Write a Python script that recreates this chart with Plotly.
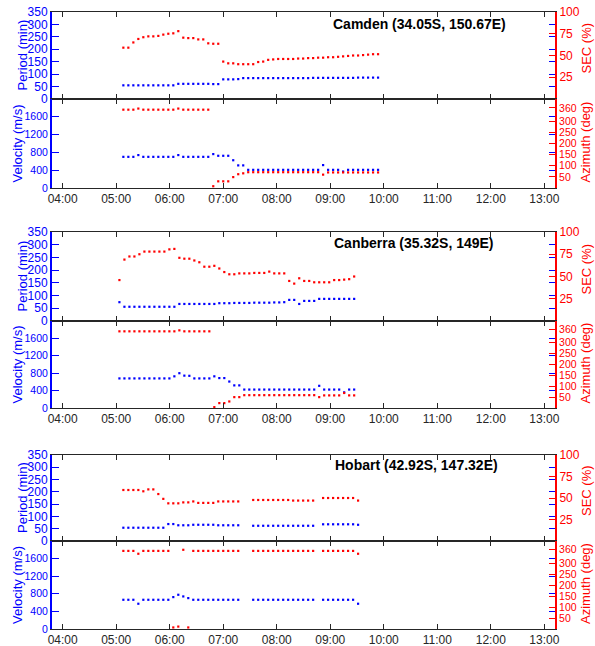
import plotly.graph_objects as go

# ---------------- data ----------------
hour_labels = ["04:00", "05:00", "06:00", "07:00", "08:00", "09:00", "10:00", "11:00", "12:00", "13:00"]
period_ticks = [0, 50, 100, 150, 200, 250, 300, 350]
sec_ticks = [25, 50, 75, 100]
velocity_ticks = [0, 400, 800, 1200, 1600]
azimuth_ticks = [50, 100, 150, 200, 250, 300, 360]

camden_time = [
    "05:08:00", "05:13:36", "05:19:12", "05:24:48", "05:30:24", "05:36:00", "05:41:36", "05:47:12", "05:52:48", "05:58:24",
    "06:04:00", "06:09:36", "06:15:12", "06:20:48", "06:26:24", "06:32:00", "06:37:36", "06:43:12", "06:48:48", "06:54:24",
    "07:00:00", "07:05:36", "07:11:12", "07:16:48", "07:22:24", "07:28:00", "07:33:36", "07:39:12", "07:44:48", "07:50:24",
    "07:56:00", "08:01:36", "08:07:12", "08:12:48", "08:18:24", "08:24:00", "08:29:36", "08:35:12", "08:40:48", "08:46:24",
    "08:52:00", "08:57:36", "09:03:12", "09:08:48", "09:14:24", "09:20:00", "09:25:36", "09:31:12", "09:36:48", "09:42:24",
    "09:48:00", "09:53:36"]
camden_period = [
    55, 55, 55, 55, 55, 55, 55, 55, 55, 55,
    55, 61, 61, 61, 61, 61, 61, 61, 60, 60,
    79, 79, 79, 80, 84, 84, 84, 84, 84, 84,
    84, 84, 84, 84, 84, 84, 84, 84, 85, 85,
    85, 85, 85, 85, 85, 85, 85, 86, 86, 86,
    86, 86]
camden_sec = [
    59, 59, 65, 69, 71, 72, 72, 72.5, 74, 75,
    75.5, 78, 70.5, 70, 70, 68.5, 68.5, 64, 63.5, 63.5,
    43, 41, 41, 40, 40, 40, 40, 42.5, 43, 45,
    45.5, 46, 46, 46, 46, 46.5, 46.5, 47, 47, 47.5,
    47.5, 48, 48, 48.5, 49, 49.5, 50, 50, 50.5, 51,
    51.5, 51.5]
camden_velocity = [
    700, 700, 700, 740, 700, 700, 700, 700, 700, 700,
    700, 740, 700, 700, 700, 700, 700, 700, 762, 724,
    724, 724, 624, 508, 508, 408, 408, 408, 408, 408,
    408, 408, 408, 408, 408, 408, 408, 408, 408, 408,
    515, 408, 408, 408, 370, 408, 408, 408, 408, 408,
    408, 408]
camden_azimuth = [
    352, 352, 352, 357, 352, 352, 352, 352, 352, 352,
    352, 357, 352, 352, 352, 352, 352, 352, 8, 30,
    30, 30, 49, 62, 66, 71, 71, 71, 71, 71,
    71, 71, 71, 71, 71, 71, 71, 71, 71, 71,
    60, 70, 70, 70, 70, 70, 70, 70, 70, 70,
    70, 70]

canberra_time = [
    "05:03:36", "05:09:12", "05:14:48", "05:20:24", "05:26:00", "05:31:36", "05:37:12", "05:42:48", "05:48:24", "05:54:00",
    "05:59:36", "06:05:12", "06:10:48", "06:16:24", "06:22:00", "06:27:36", "06:33:12", "06:38:48", "06:44:24", "06:50:00",
    "06:55:36", "07:01:12", "07:06:48", "07:12:24", "07:18:00", "07:23:36", "07:29:12", "07:34:48", "07:40:24", "07:46:00",
    "07:51:36", "07:57:12", "08:02:48", "08:08:24", "08:14:00", "08:19:36", "08:25:12", "08:30:48", "08:36:24", "08:42:00",
    "08:47:36", "08:53:12", "08:58:48", "09:04:24", "09:10:00", "09:15:36", "09:21:12", "09:26:48"]
canberra_period = [
    74, 56, 56, 56, 56, 56, 56, 56, 56, 56,
    56, 56, 67, 67, 67, 67, 67, 67, 67, 67,
    70, 70, 70, 71, 71, 71, 71, 72, 72, 72,
    72, 73, 73, 74, 83, 83, 67, 79, 79, 79,
    87, 87, 87, 87, 87, 87, 87, 87]
canberra_sec = [
    46, 69, 72.5, 72.5, 75, 78, 78, 78, 78, 78,
    80.5, 81, 71, 70, 70, 68, 66, 61, 61, 62,
    59, 55, 52.5, 52.5, 53.5, 53.5, 53.5, 54, 54, 54,
    55.5, 53.5, 53.5, 53.5, 45, 42, 48, 45, 45, 43.5,
    43.5, 43.5, 43.5, 46, 46, 46.5, 47, 50]
canberra_velocity = [
    680, 680, 680, 680, 680, 680, 680, 680, 680, 680,
    680, 728, 800, 744, 740, 680, 680, 680, 680, 728,
    688, 688, 608, 520, 520, 424, 424, 424, 424, 424,
    424, 424, 424, 424, 424, 424, 424, 424, 424, 424,
    510, 424, 424, 424, 424, 360, 424, 424]
canberra_azimuth = [
    352.5, 352.5, 352.5, 352.5, 352.5, 352.5, 352.5, 352.5, 352.5, 352.5,
    352.5, 352.5, 357, 352.5, 352.5, 352.5, 352.5, 352.5, 352.5, 4,
    22.5, 22.5, 30, 50, 50, 59, 59, 59, 59, 59,
    59, 59, 59, 59, 59, 59, 59, 59, 59, 59,
    50, 58, 58, 58, 58, 69, 58, 58]

hobart_time = [
    "05:08:00", "05:13:36", "05:19:12", "05:24:48", "05:30:24", "05:36:00", "05:41:36", "05:47:12", "05:52:48", "05:58:24",
    "06:04:00", "06:09:36", "06:15:12", "06:20:48", "06:26:24", "06:32:00", "06:37:36", "06:43:12", "06:48:48", "06:54:24",
    "07:00:00", "07:05:36", "07:11:12", "07:16:48",
    "07:33:36", "07:39:12", "07:44:48", "07:50:24", "07:56:00", "08:01:36", "08:07:12", "08:12:48", "08:18:24", "08:24:00",
    "08:29:36", "08:35:12", "08:40:48",
    "08:52:00", "08:57:36", "09:03:12", "09:08:48", "09:14:24", "09:20:00", "09:25:36", "09:31:12"]
hobart_period = [
    54, 54, 54, 54, 54, 54, 54, 54, 54, 69,
    69, 64, 64, 64, 66, 66, 66, 66, 66, 64,
    64, 64, 64, 64,
    62, 62, 62, 62, 62, 62, 62, 62, 62, 62,
    62, 62, 62,
    68, 68, 68, 68, 68, 68, 68, 66]
hobart_sec = [
    59.3, 59.3, 59.3, 59.3, 57.8, 60, 60, 54.6, 49, 43.8,
    43.8, 43.8, 44.9, 44.9, 46, 44.3, 44.3, 44.3, 44.3, 46,
    46, 46, 46, 46,
    47.7, 47.7, 47.7, 47.7, 47.7, 47.7, 47.7, 47.7, 47, 47,
    47, 47, 47,
    50, 50, 50, 50, 50, 50, 50, 47]
hobart_velocity = [
    664, 664, 664, 574, 664, 664, 664, 664, 664, 664,
    725, 778, 740, 702, 664, 664, 664, 664, 664, 664,
    664, 664, 664, 664,
    664, 664, 664, 664, 664, 664, 664, 664, 664, 664,
    664, 664, 664,
    664, 664, 664, 664, 664, 664, 664, 574]
hobart_azimuth = [
    355, 355, 355, 342, 355, 355, 355, 355, 355, 355,
    7, 11, 360, 7, 355, 355, 355, 355, 355, 355,
    355, 355, 355, 355,
    355, 355, 355, 355, 355, 355, 355, 355, 355, 355,
    355, 355, 355,
    355, 355, 355, 355, 355, 355, 355, 342]

station_names = ["Camden (34.05S, 150.67E)", "Canberra (35.32S, 149E)", "Hobart (42.92S, 147.32E)"]

# ---------------- layout / style ----------------
W, H = 595, 646
DAY = "2000-01-01 "
BLUE = "#0000ff"
RED = "#ff0000"
INK = "#262626"
FONT = "Liberation Sans, Arial, sans-serif"
X0, X1 = 52, 555
blocks = [(12, 99, 188), (232, 321, 408), (455, 541, 629)]
title_px = [(331, 24), (332, 243), (333, 465)]

stations = [
    (camden_time, camden_period, camden_sec, camden_velocity, camden_azimuth),
    (canberra_time, canberra_period, canberra_sec, canberra_velocity, canberra_azimuth),
    (hobart_time, hobart_period, hobart_sec, hobart_velocity, hobart_azimuth),
]


def aid(letter, n):
    return letter if n == 1 else f"{letter}{n}"


def akey(letter, n):
    return f"{letter}axis" if n == 1 else f"{letter}axis{n}"


fig = go.Figure()
lay = {}
annotations = []
marker_size = 2.2

for i, (t, per, sec, vel, az) in enumerate(stations):
    top, mid, bot = blocks[i]
    xs = [DAY + v for v in t]
    panels = [
        dict(y0=top, y1=mid, left=per, right=sec, lt=period_ticks, rt=sec_ticks,
             lr=[0, 350], rr=[0, 100], ltitle="Period (min)", rtitle="SEC (%)",
             lx=22, showx=False, tfs=12, rx=586, rdy=-7),
        dict(y0=mid, y1=bot, left=vel, right=az, lt=velocity_ticks, rt=azimuth_ticks,
             lr=[0, 2000], rr=[0, 400], ltitle="Velocity (m/s)", rtitle="Azimuth (deg)",
             lx=17, showx=True, tfs=10.5, rx=585, rdy=-1),
    ]
    for j, p in enumerate(panels):
        n = 2 * i + j + 1
        pn = 3 * (n - 1) + 1
        sn = pn + 1
        dn = pn + 2
        xid = aid("x", n)
        lay[akey("x", n)] = dict(
            domain=[X0 / W, X1 / W], anchor=aid("y", pn), type="date",
            range=[DAY + "03:48", DAY + "13:12"], automargin=False,
            tickmode="array", tickvals=[DAY + h for h in hour_labels], ticktext=hour_labels,
            ticks="inside", ticklen=5, tickwidth=1, tickcolor=INK,
            showline=True, linecolor=INK, linewidth=1, mirror="ticks",
            showgrid=False, zeroline=False, showticklabels=p["showx"],
            tickfont=dict(size=12, color=INK, family=FONT),
        )
        dom = [1 - p["y1"] / H, 1 - p["y0"] / H]
        lay[akey("y", pn)] = dict(
            domain=dom, anchor=xid, range=p["lr"], tickmode="array", tickvals=p["lt"],
            automargin=False,
            ticks="inside", ticklen=7, tickwidth=1, tickcolor=BLUE,
            showline=True, linecolor=BLUE, linewidth=2,
            showgrid=False, zeroline=False,
            tickfont=dict(size=p["tfs"], color=BLUE, family=FONT),
        )
        lay[akey("y", sn)] = dict(
            overlaying=aid("y", pn), side="right", anchor=xid, range=p["rr"],
            tickmode="array", tickvals=p["rt"], automargin=False,
            ticks="inside", ticklen=6, tickwidth=1, tickcolor=RED,
            showline=True, linecolor=RED, linewidth=2,
            showgrid=False, zeroline=False,
            tickfont=dict(size=p["tfs"], color=RED, family=FONT),
        )
        lay[akey("y", dn)] = dict(
            overlaying=aid("y", pn), side="right", anchor=xid, range=p["lr"],
            tickmode="array", tickvals=p["lt"], automargin=False,
            ticks="inside", ticklen=6, tickwidth=1, tickcolor=BLUE,
            showline=False, showticklabels=False, showgrid=False, zeroline=False,
        )
        fig.add_trace(go.Scatter(
            x=xs, y=p["left"], mode="markers", xaxis=xid, yaxis=aid("y", pn),
            marker=dict(color=BLUE, size=marker_size, symbol="square", line=dict(width=0)),
            showlegend=False, hoverinfo="skip"))
        fig.add_trace(go.Scatter(
            x=[], y=[], mode="markers", xaxis=xid, yaxis=aid("y", dn),
            showlegend=False, hoverinfo="skip"))
        fig.add_trace(go.Scatter(
            x=xs, y=p["right"], mode="markers", xaxis=xid, yaxis=aid("y", sn),
            marker=dict(color=RED, size=marker_size, symbol="square", line=dict(width=0)),
            showlegend=False, hoverinfo="skip"))

        yc = (p["y0"] + p["y1"]) / 2
        annotations.append(dict(
            text=p["ltitle"], xref="paper", yref="paper", x=p["lx"] / W, y=1 - yc / H,
            xanchor="center", yanchor="middle", textangle=-90, showarrow=False,
            font=dict(size=13, color=BLUE, family=FONT)))
        annotations.append(dict(
            text=p["rtitle"], xref="paper", yref="paper", x=p["rx"] / W, y=1 - (yc + p["rdy"]) / H,
            xanchor="center", yanchor="middle", textangle=-90, showarrow=False,
            font=dict(size=13, color=RED, family=FONT)))

    tx, ty = title_px[i]
    annotations.append(dict(
        text="<b>" + station_names[i] + "</b>", xref="paper", yref="paper",
        x=tx / W, y=1 - ty / H, xanchor="left", yanchor="middle", showarrow=False,
        font=dict(size=14, color="#000000", family=FONT)))

fig.update_layout(
    width=W, height=H, autosize=False,
    margin=dict(l=0, r=0, t=0, b=0, autoexpand=False),
    paper_bgcolor="white", plot_bgcolor="white",
    showlegend=False,
    annotations=annotations,
    **lay,
)

fig.write_html("out.html")
